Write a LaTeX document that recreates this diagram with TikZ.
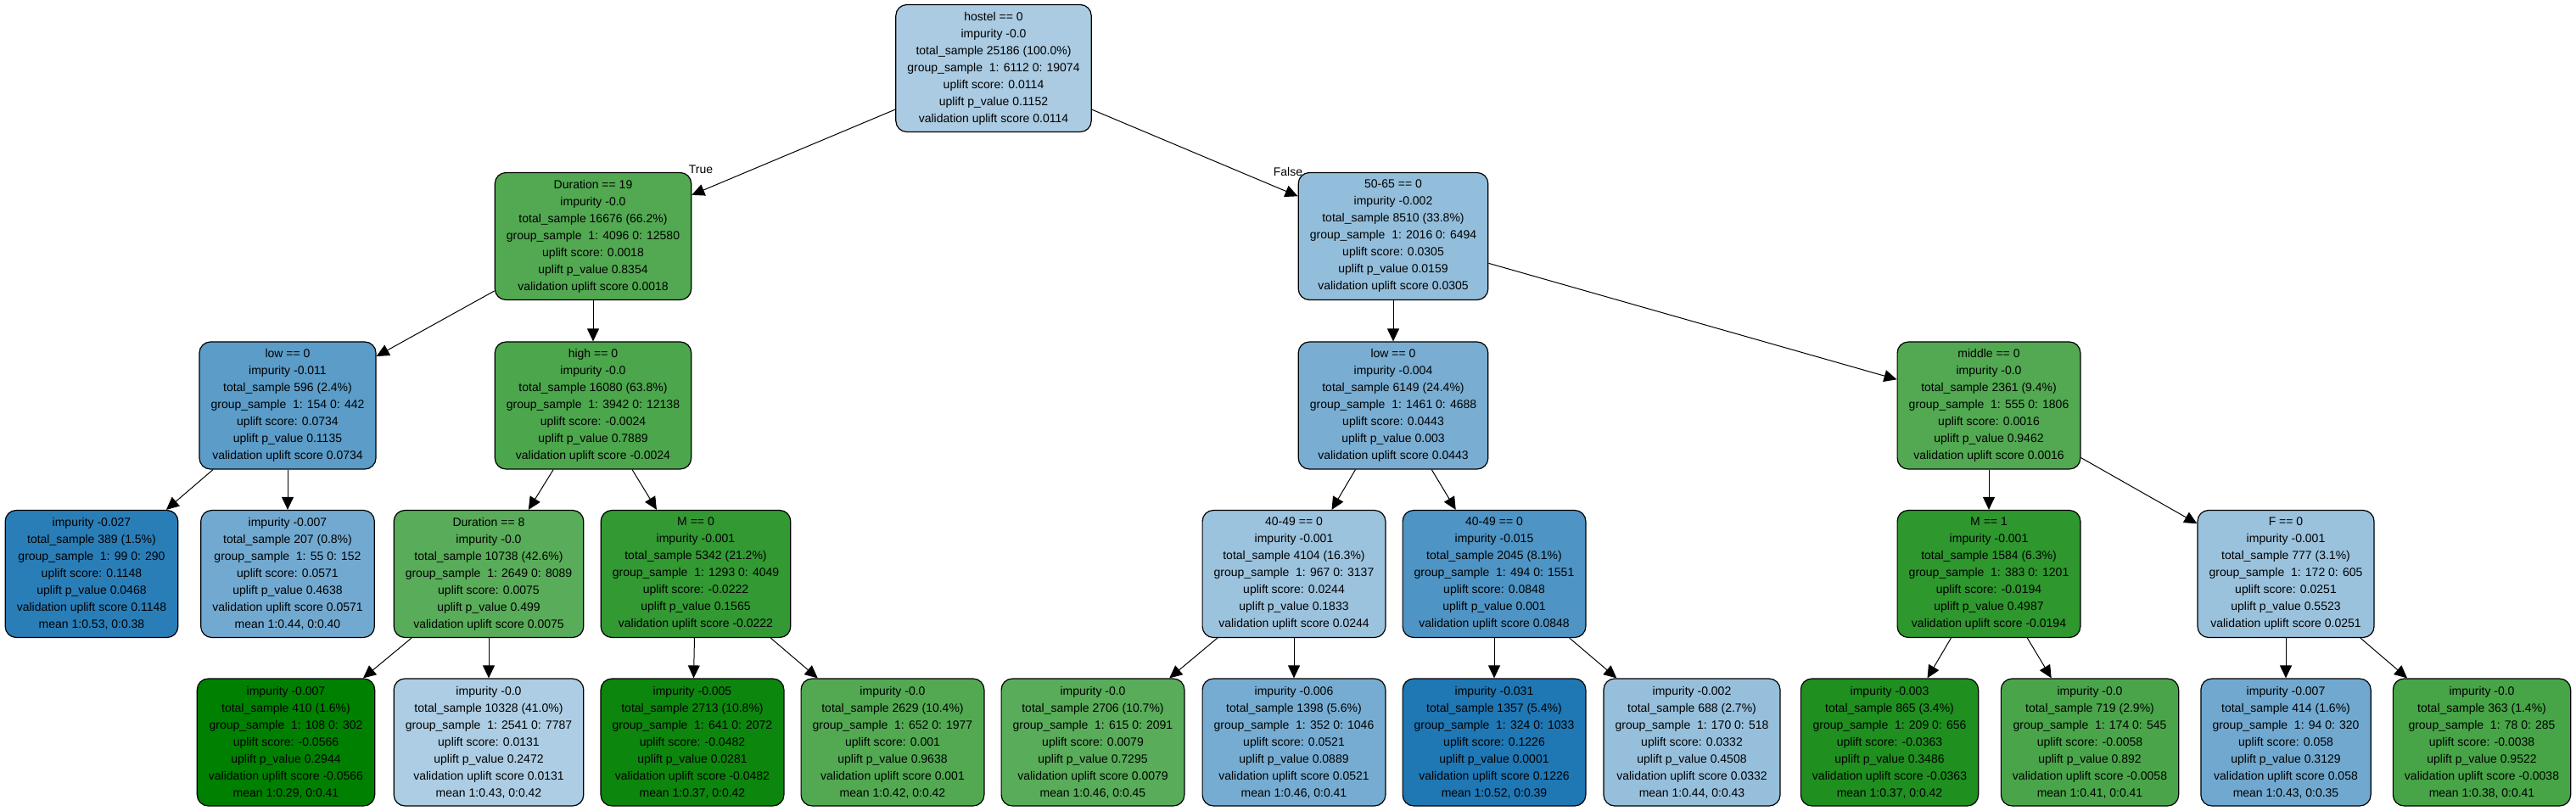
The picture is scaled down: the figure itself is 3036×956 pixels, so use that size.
\documentclass[tikz,border=0pt]{standalone}
\usepackage{fontspec}
\setmainfont{Liberation Sans}
\usepackage{xcolor}
\usepackage{tikz}
\usetikzlibrary{arrows.meta}
\usetikzlibrary{positioning, calc}
\definecolor{upblue}{HTML}{1F77B4}
\definecolor{upgreen}{HTML}{008000}

\tikzset{
    treenode/.style={draw, line width=0.6pt, rounded corners=6.5pt, align=center,
        minimum height=75pt, inner xsep=6.8pt,
        font=\fontsize{7}{10}\selectfont},
    branch/.style={font=\fontsize{7}{10}\selectfont, inner sep=0pt},
    edge/.style={line width=0.5pt, -{Triangle[length=7.5pt, width=7pt]}}
}

\begin{document}
\begin{tikzpicture}[x=0.5pt, y=-0.5pt]
\useasboundingbox (0,0) rectangle (3036,956);

% root and first split
\node[treenode, fill=upblue!38!white] (n0) at (1171, 80.5) {hostel == 0\\impurity -0.0\\total\_sample 25186 (100.0\%)\\group\_sample\ \ 1: 6112 0: 19074\\uplift score: 0.0114\\uplift p\_value 0.1152\\validation uplift score 0.0114};

\node[treenode, fill=upgreen!68!white] (n1) at (699, 278.5) {Duration == 19\\impurity -0.0\\total\_sample 16676 (66.2\%)\\group\_sample\ \ 1: 4096 0: 12580\\uplift score: 0.0018\\uplift p\_value 0.8354\\validation uplift score 0.0018};
\node[treenode, fill=upblue!48!white] (n2) at (1642, 278.5) {50-65 == 0\\impurity -0.002\\total\_sample 8510 (33.8\%)\\group\_sample\ \ 1: 2016 0: 6494\\uplift score: 0.0305\\uplift p\_value 0.0159\\validation uplift score 0.0305};

% second level
\node[treenode, fill=upblue!73!white] (n3) at (339, 478) {low == 0\\impurity -0.011\\total\_sample 596 (2.4\%)\\group\_sample\ \ 1: 154 0: 442\\uplift score: 0.0734\\uplift p\_value 0.1135\\validation uplift score 0.0734};
\node[treenode, fill=upgreen!70!white] (n4) at (699, 478) {high == 0\\impurity -0.0\\total\_sample 16080 (63.8\%)\\group\_sample\ \ 1: 3942 0: 12138\\uplift score: -0.0024\\uplift p\_value 0.7889\\validation uplift score -0.0024};
\node[treenode, fill=upblue!60!white] (n5) at (1642, 478) {low == 0\\impurity -0.004\\total\_sample 6149 (24.4\%)\\group\_sample\ \ 1: 1461 0: 4688\\uplift score: 0.0443\\uplift p\_value 0.003\\validation uplift score 0.0443};
\node[treenode, fill=upgreen!68!white] (n6) at (2344, 478) {middle == 0\\impurity -0.0\\total\_sample 2361 (9.4\%)\\group\_sample\ \ 1: 555 0: 1806\\uplift score: 0.0016\\uplift p\_value 0.9462\\validation uplift score 0.0016};

% third level
\node[treenode, fill=upblue!95!white] (n7) at (108, 676.5) {impurity -0.027\\total\_sample 389 (1.5\%)\\group\_sample\ \ 1: 99 0: 290\\uplift score: 0.1148\\uplift p\_value 0.0468\\validation uplift score 0.1148\\mean 1:0.53, 0:0.38};
\node[treenode, fill=upblue!63!white] (n8) at (339, 676.5) {impurity -0.007\\total\_sample 207 (0.8\%)\\group\_sample\ \ 1: 55 0: 152\\uplift score: 0.0571\\uplift p\_value 0.4638\\validation uplift score 0.0571\\mean 1:0.44, 0:0.40};
\node[treenode, fill=upgreen!65!white] (n9) at (576, 676.5) {Duration == 8\\impurity -0.0\\total\_sample 10738 (42.6\%)\\group\_sample\ \ 1: 2649 0: 8089\\uplift score: 0.0075\\uplift p\_value 0.499\\validation uplift score 0.0075};
\node[treenode, fill=upgreen!80!white] (n10) at (820, 676.5) {M == 0\\impurity -0.001\\total\_sample 5342 (21.2\%)\\group\_sample\ \ 1: 1293 0: 4049\\uplift score: -0.0222\\uplift p\_value 0.1565\\validation uplift score -0.0222};
\node[treenode, fill=upblue!44!white] (n11) at (1525, 676.5) {40-49 == 0\\impurity -0.001\\total\_sample 4104 (16.3\%)\\group\_sample\ \ 1: 967 0: 3137\\uplift score: 0.0244\\uplift p\_value 0.1833\\validation uplift score 0.0244};
\node[treenode, fill=upblue!79!white] (n12) at (1761, 676.5) {40-49 == 0\\impurity -0.015\\total\_sample 2045 (8.1\%)\\group\_sample\ \ 1: 494 0: 1551\\uplift score: 0.0848\\uplift p\_value 0.001\\validation uplift score 0.0848};
\node[treenode, fill=upgreen!82!white] (n13) at (2344, 676.5) {M == 1\\impurity -0.001\\total\_sample 1584 (6.3\%)\\group\_sample\ \ 1: 383 0: 1201\\uplift score: -0.0194\\uplift p\_value 0.4987\\validation uplift score -0.0194};
\node[treenode, fill=upblue!45!white] (n14) at (2694, 676.5) {F == 0\\impurity -0.001\\total\_sample 777 (3.1\%)\\group\_sample\ \ 1: 172 0: 605\\uplift score: 0.0251\\uplift p\_value 0.5523\\validation uplift score 0.0251};

% leaves
\node[treenode, fill=upgreen!100!white] (n15) at (337, 875) {impurity -0.007\\total\_sample 410 (1.6\%)\\group\_sample\ \ 1: 108 0: 302\\uplift score: -0.0566\\uplift p\_value 0.2944\\validation uplift score -0.0566\\mean 1:0.29, 0:0.41};
\node[treenode, fill=upblue!37!white] (n16) at (576, 875) {impurity -0.0\\total\_sample 10328 (41.0\%)\\group\_sample\ \ 1: 2541 0: 7787\\uplift score: 0.0131\\uplift p\_value 0.2472\\validation uplift score 0.0131\\mean 1:0.43, 0:0.42};
\node[treenode, fill=upgreen!95!white] (n17) at (816, 875) {impurity -0.005\\total\_sample 2713 (10.8\%)\\group\_sample\ \ 1: 641 0: 2072\\uplift score: -0.0482\\uplift p\_value 0.0281\\validation uplift score -0.0482\\mean 1:0.37, 0:0.42};
\node[treenode, fill=upgreen!68!white] (n18) at (1052, 875) {impurity -0.0\\total\_sample 2629 (10.4\%)\\group\_sample\ \ 1: 652 0: 1977\\uplift score: 0.001\\uplift p\_value 0.9638\\validation uplift score 0.001\\mean 1:0.42, 0:0.42};
\node[treenode, fill=upgreen!65!white] (n19) at (1288, 875) {impurity -0.0\\total\_sample 2706 (10.7\%)\\group\_sample\ \ 1: 615 0: 2091\\uplift score: 0.0079\\uplift p\_value 0.7295\\validation uplift score 0.0079\\mean 1:0.46, 0:0.45};
\node[treenode, fill=upblue!61!white] (n20) at (1525, 875) {impurity -0.006\\total\_sample 1398 (5.6\%)\\group\_sample\ \ 1: 352 0: 1046\\uplift score: 0.0521\\uplift p\_value 0.0889\\validation uplift score 0.0521\\mean 1:0.46, 0:0.41};
\node[treenode, fill=upblue!100!white] (n21) at (1761, 875) {impurity -0.031\\total\_sample 1357 (5.4\%)\\group\_sample\ \ 1: 324 0: 1033\\uplift score: 0.1226\\uplift p\_value 0.0001\\validation uplift score 0.1226\\mean 1:0.52, 0:0.39};
\node[treenode, fill=upblue!47!white] (n22) at (1994, 875) {impurity -0.002\\total\_sample 688 (2.7\%)\\group\_sample\ \ 1: 170 0: 518\\uplift score: 0.0332\\uplift p\_value 0.4508\\validation uplift score 0.0332\\mean 1:0.44, 0:0.43};
\node[treenode, fill=upgreen!88!white] (n23) at (2227, 875) {impurity -0.003\\total\_sample 865 (3.4\%)\\group\_sample\ \ 1: 209 0: 656\\uplift score: -0.0363\\uplift p\_value 0.3486\\validation uplift score -0.0363\\mean 1:0.37, 0:0.42};
\node[treenode, fill=upgreen!71!white] (n24) at (2463, 875) {impurity -0.0\\total\_sample 719 (2.9\%)\\group\_sample\ \ 1: 174 0: 545\\uplift score: -0.0058\\uplift p\_value 0.892\\validation uplift score -0.0058\\mean 1:0.41, 0:0.41};
\node[treenode, fill=upblue!64!white] (n25) at (2694, 875) {impurity -0.007\\total\_sample 414 (1.6\%)\\group\_sample\ \ 1: 94 0: 320\\uplift score: 0.058\\uplift p\_value 0.3129\\validation uplift score 0.058\\mean 1:0.43, 0:0.35};
\node[treenode, fill=upgreen!72!white] (n26) at (2925, 875) {impurity -0.0\\total\_sample 363 (1.4\%)\\group\_sample\ \ 1: 78 0: 285\\uplift score: -0.0038\\uplift p\_value 0.9522\\validation uplift score -0.0038\\mean 1:0.38, 0:0.41};

\foreach \a/\b in {
    n0/n1, n0/n2, n1/n3, n1/n4, n2/n5, n2/n6,
    n3/n7, n3/n8, n4/n9, n4/n10, n5/n11, n5/n12, n6/n13, n6/n14,
    n9/n15, n9/n16, n10/n17, n10/n18, n11/n19, n11/n20,
    n12/n21, n12/n22, n13/n23, n13/n24, n14/n25, n14/n26}
    \draw[edge] (\a) -- (\b);

\node[branch] (ltrue) at (826, 200) {True};
\node[branch] (lfalse) at (1518, 203) {False};

\end{tikzpicture}
\end{document}
